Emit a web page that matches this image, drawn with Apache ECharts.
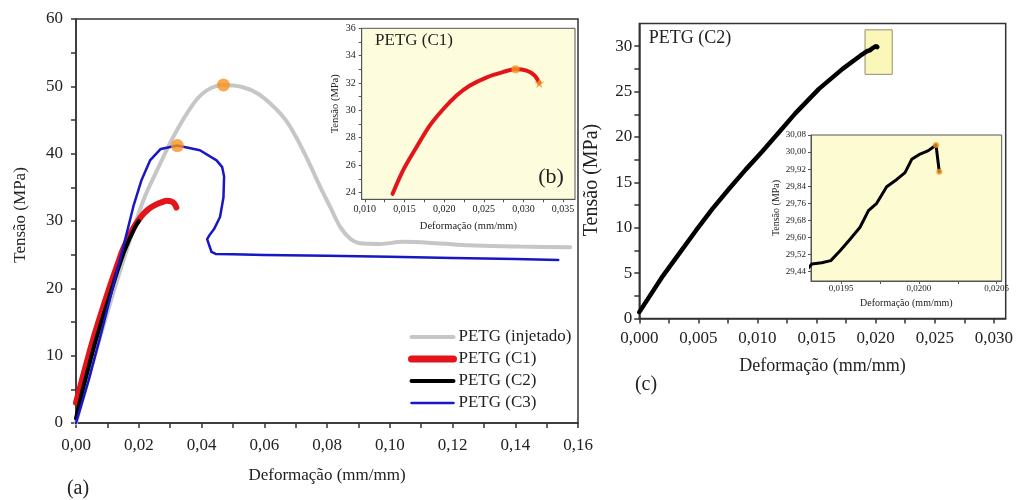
<!DOCTYPE html>
<html><head><meta charset="utf-8">
<script src="https://cdn.jsdelivr.net/npm/echarts@6/dist/echarts.min.js"></script>
<style>html,body{margin:0;padding:0;background:#fff}#c{width:1016px;height:500px}</style>
</head><body><div id="c"></div>
<script>
// ---------- data ----------
const seriesNames = ['PETG (injetado)', 'PETG (C1)', 'PETG (C2)', 'PETG (C3)'];
const injetado = [[0,0],[0.005,8.4],[0.010,16.4],[0.015,24.0],[0.0215,33.1],[0.0257,37.4],[0.031,42.5],[0.0374,47.4],[0.0417,49.4],[0.047,50.2],[0.053,49.9],[0.058,48.9],[0.0625,47.2],[0.0665,45.2],[0.070,42.6],[0.0735,39.4],[0.0778,35.1],[0.081,32.1],[0.0841,29.2],[0.0873,27.4],[0.0905,26.7],[0.097,26.6],[0.1043,26.9],[0.115,26.7],[0.1256,26.4],[0.1415,26.2],[0.1575,26.1]];
const c1 = [[0,3.0],[0.0055,12.5],[0.0108,20.3],[0.0135,23.9],[0.0148,25.6],[0.0165,27.3],[0.0182,28.9],[0.0199,30.1],[0.0216,31.1],[0.0232,31.8],[0.0253,32.4],[0.0274,32.8],[0.029,33.0],[0.0304,32.9],[0.0314,32.55],[0.032,32.0]];
const c2 = [[0,0.7],[0.002,4.7],[0.0034,7.2],[0.0048,9.7],[0.0062,12.1],[0.0076,14.3],[0.009,16.4],[0.0104,18.4],[0.0118,20.5],[0.0132,22.6],[0.0152,25.3],[0.0172,27.5],[0.0187,28.95],
  [0.019312,29.476],[0.019376,29.482],[0.019434,29.492],[0.019494,29.538],[0.019558,29.592],[0.019622,29.648],[0.019676,29.726],[0.019729,29.760],[0.019793,29.838],[0.019858,29.872],[0.019911,29.904],[0.019954,29.966],[0.020008,29.991],[0.020061,30.007],[0.020110,30.033],[0.020131,29.908]];
const c3 = [[0,0],[0.004,6.3],[0.008,13.3],[0.012,20.6],[0.015,26.0],[0.0183,32.2],[0.0209,36.1],[0.0236,39.0],[0.027,40.7],[0.0323,41.2],[0.0395,40.5],[0.0448,39.0],[0.0466,38.0],[0.0472,36.6],[0.0470,33.5],[0.0459,30.6],[0.0440,28.8],[0.0427,28.0],[0.0418,27.3],[0.0423,26.6],[0.0432,25.4],[0.0445,25.1],[0.05,25.05],[0.06,24.95],[0.08,24.85],[0.10,24.7],[0.12,24.5],[0.14,24.35],[0.1537,24.2]];
const c2Box = [[0.0191,26.9],[0.0214,31.8]];

// tick values
const aXTicks = [0,0.02,0.04,0.06,0.08,0.10,0.12,0.14,0.16];
const aXMinor = [0.01,0.03,0.05,0.07,0.09,0.11,0.13,0.15];
const aYTicks = [0,10,20,30,40,50,60];
const aYMinor = [5,15,25,35,45,55];
const bXTicks = [0.010,0.015,0.020,0.025,0.030,0.035];
const bXMinor = [0.0125,0.0175,0.0225,0.0275,0.0325];
const bYTicks = [24,26,28,30,32,34,36];
const bYMinor = [25,27,29,31,33,35];
const cXTicks = [0,0.005,0.010,0.015,0.020,0.025,0.030];
const cXMinor = [0.0025,0.0075,0.0125,0.0175,0.0225,0.0275];
const cYTicks = [0,5,10,15,20,25,30];
const cYMinor = [2.5,7.5,12.5,17.5,22.5,27.5];
const dXTicks = [0.0195,0.0200,0.0205];
const dXMinor = [0.01975,0.02025];
const dYTicks = [29.44,29.52,29.60,29.68,29.76,29.84,29.92,30.00,30.08];

// ---------- helpers ----------
const SERIF = 'Liberation Serif';
const fmt = d => v => Number(v).toFixed(d).replace('.', ',');
function argmax(arr){ let m = arr[0]; arr.forEach(p => { if (p[1] > m[1]) m = p; }); return m; }

function mkAxis(kind, gridIndex, min, max, majors, minors, d, o) {
  return {
    type: 'value', gridIndex, min, max,
    position: kind === 'x' ? 'bottom' : 'left',
    axisLine: {show: true, onZero: false, lineStyle: {color: o.color, width: o.lw}},
    axisTick: {show: true, inside: false, length: o.tl, customValues: majors.concat(minors), lineStyle: {color: o.color, width: o.lw}},
    axisLabel: {show: true, customValues: majors, formatter: fmt(d), fontFamily: SERIF, fontSize: o.fs, color: '#222', margin: o.margin},
    splitLine: {show: false},
    name: o.name, nameLocation: 'middle', nameGap: o.gap,
    nameTextStyle: {fontFamily: SERIF, fontSize: o.nfs, color: '#222', padding: o.npad || 0}
  };
}

const ORANGE = '#f7941e';
const RED = '#e3151b';
const BLUE = '#1717c4';
const GRAY = '#c6c6c6';
const STAR = 'path://M50,0 L61,35 L98,35 L68,57 L79,91 L50,70 L21,91 L32,57 L2,35 L39,35 Z';

const main = {color: '#333', lw: 1.5, tl: 5};
const small = {color: '#555', lw: 1, tl: 3};
const legendWidths = [4, 7, 4, 2.5];
const legendColors = [GRAY, RED, '#000', BLUE];

const option = {
  animation: false,
  backgroundColor: '#fff',
  grid: [
    {left: 76, top: 19, width: 502, height: 404, show: true, borderColor: '#333', borderWidth: 1.5, backgroundColor: 'transparent'},
    {left: 361.7, top: 28.3, width: 213.3, height: 171, show: true, borderColor: '#555', borderWidth: 1, backgroundColor: '#fdfcdc'},
    {left: 639.3, top: 23.5, width: 368.6, height: 295, show: true, borderColor: '#333', borderWidth: 1.5, backgroundColor: 'transparent'},
    {left: 811, top: 135, width: 190.7, height: 146, show: true, borderColor: '#555', borderWidth: 1, backgroundColor: '#fdfbd2'}
  ],
  xAxis: [
    mkAxis('x', 0, 0, 0.16, aXTicks, aXMinor, 2, Object.assign({}, main, {fs: 17, margin: 14, name: 'Deformação (mm/mm)', gap: 44, nfs: 17})),
    mkAxis('x', 1, 0.0096, 0.0365, bXTicks, bXMinor, 3, Object.assign({}, small, {fs: 10, margin: 5, name: 'Deformação (mm/mm)', gap: 21, nfs: 10.5})),
    mkAxis('x', 2, 0, 0.031, cXTicks, cXMinor, 3, Object.assign({}, main, {fs: 17, margin: 12, name: 'Deformação (mm/mm)', gap: 39, nfs: 18})),
    mkAxis('x', 3, 0.019307, 0.020532, dXTicks, dXMinor, 4, Object.assign({}, small, {fs: 9, margin: 3, name: 'Deformação (mm/mm)', gap: 17, nfs: 10}))
  ],
  yAxis: [
    mkAxis('y', 0, 0, 60, aYTicks, aYMinor, 0, Object.assign({}, main, {fs: 17, margin: 13, name: 'Tensão (MPa)', gap: 47, nfs: 17, npad: [0, 0, 0, 12]})),
    mkAxis('y', 1, 23.5, 36, bYTicks, bYMinor, 0, Object.assign({}, small, {fs: 10, margin: 6, name: 'Tensão (MPa)', gap: 21, nfs: 10.5, npad: [0, 0, 0, 20]})),
    mkAxis('y', 2, 0, 32.5, cYTicks, cYMinor, 0, Object.assign({}, main, {fs: 17, margin: 7, name: 'Tensão (MPa)', gap: 38, nfs: 20, npad: [0, 18, 0, 0]})),
    mkAxis('y', 3, 29.3965, 30.08, dYTicks, [], 2, Object.assign({}, small, {fs: 9, margin: 5, name: 'Tensão (MPa)', gap: 28, nfs: 10}))
  ],
  legend: {
    orient: 'vertical', left: 408, top: 328, padding: 0, itemWidth: 42, itemHeight: 14, itemGap: 4,
    selectedMode: false,
    textStyle: {fontFamily: SERIF, fontSize: 17, color: '#222', lineHeight: 18},
    data: seriesNames.map((n, i) => ({
      name: n,
      itemStyle: {color: 'rgba(0,0,0,0)', borderWidth: 0, opacity: 0},
      lineStyle: {color: legendColors[i], width: legendWidths[i], cap: 'round', opacity: 1}
    }))
  },
  series: [
    {name: seriesNames[0], type: 'line', xAxisIndex: 0, yAxisIndex: 0, data: injetado, symbol: 'none', smooth: 0.3,
      lineStyle: {color: GRAY, width: 4, cap: 'round'}, itemStyle: {color: GRAY}, z: 2},
    {name: seriesNames[1], type: 'line', xAxisIndex: 0, yAxisIndex: 0, data: c1, symbol: 'none', smooth: 0.3,
      lineStyle: {color: RED, width: 6, cap: 'round'}, itemStyle: {color: RED}, z: 3},
    {name: seriesNames[2], type: 'line', xAxisIndex: 0, yAxisIndex: 0, data: c2, symbol: 'none',
      lineStyle: {color: '#000', width: 4, cap: 'round'}, itemStyle: {color: '#000'}, z: 4},
    {name: seriesNames[3], type: 'line', xAxisIndex: 0, yAxisIndex: 0, data: c3, symbol: 'none',
      lineStyle: {color: BLUE, width: 2.5, cap: 'round', join: 'round'}, itemStyle: {color: BLUE}, z: 5},
    {name: 'picos (a)', type: 'scatter', xAxisIndex: 0, yAxisIndex: 0, data: [argmax(injetado), argmax(c3)],
      symbol: 'circle', symbolSize: 13, itemStyle: {color: ORANGE}, z: 6},
    // inset (b)
    {name: 'C1 detalhe', type: 'line', xAxisIndex: 1, yAxisIndex: 1, data: c1.filter(p => p[1] >= 23.5), symbol: 'none', smooth: 0.3,
      lineStyle: {color: RED, width: 4, cap: 'round'}, z: 3},
    {name: 'C1 pico', type: 'scatter', xAxisIndex: 1, yAxisIndex: 1, data: [argmax(c1)], symbol: 'circle', symbolSize: 8, itemStyle: {color: ORANGE}, z: 6},
    {name: 'C1 fim', type: 'scatter', xAxisIndex: 1, yAxisIndex: 1, data: [c1[c1.length - 1]], symbol: STAR, symbolSize: 10, itemStyle: {color: ORANGE}, z: 6},
    // panel (c)
    {name: 'C2 (c)', type: 'line', xAxisIndex: 2, yAxisIndex: 2, data: c2, symbol: 'none',
      lineStyle: {color: '#000', width: 4.5, cap: 'round'}, z: 3,
      markArea: {silent: true, itemStyle: {color: '#fbf7b8', borderColor: '#8f8f70', borderWidth: 1},
        data: [[{coord: c2Box[0]}, {coord: c2Box[1]}]]}},
    {name: 'C2 detalhe', type: 'line', xAxisIndex: 3, yAxisIndex: 3, data: c2, symbol: 'none',
      lineStyle: {color: '#000', width: 3, cap: 'round', join: 'round'}, z: 3},
    {name: 'C2 pontos', type: 'scatter', xAxisIndex: 3, yAxisIndex: 3, data: [argmax(c2), c2[c2.length - 1]],
      symbol: 'circle', symbolSize: 6, itemStyle: {color: ORANGE}, z: 6}
  ],
  graphic: [
    {type: 'text', x: 78, y: 489, style: {text: '(a)', fontFamily: SERIF, fontSize: 20, fill: '#222', align: 'center', verticalAlign: 'middle'}},
    {type: 'text', x: 551, y: 177, style: {text: '(b)', fontFamily: SERIF, fontSize: 22, fill: '#222', align: 'center', verticalAlign: 'middle'}},
    {type: 'text', x: 646, y: 385, style: {text: '(c)', fontFamily: SERIF, fontSize: 20, fill: '#222', align: 'center', verticalAlign: 'middle'}},
    {type: 'text', x: 414, y: 41, style: {text: 'PETG (C1)', fontFamily: SERIF, fontSize: 17, fill: '#222', align: 'center', verticalAlign: 'middle'}},
    {type: 'text', x: 690, y: 38, style: {text: 'PETG (C2)', fontFamily: SERIF, fontSize: 18, fill: '#222', align: 'center', verticalAlign: 'middle'}}
  ]
};

const chart = echarts.init(document.getElementById('c'), null, {renderer: 'canvas'});
chart.setOption(option);
</script>
</body></html>
